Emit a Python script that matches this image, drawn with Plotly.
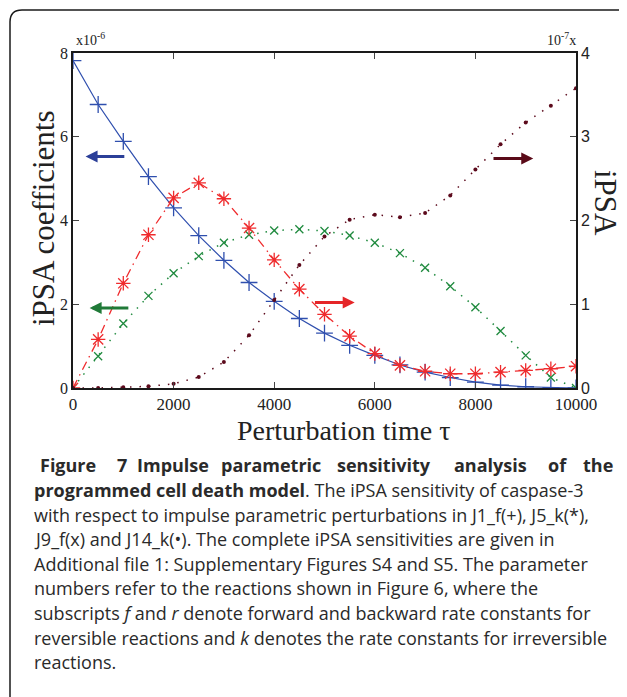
import plotly.graph_objects as go

# perturbation times
tau = [0, 500, 1000, 1500, 2000, 2500, 3000, 3500, 4000, 4500, 5000,
       5500, 6000, 6500, 7000, 7500, 8000, 8500, 9000, 9500, 10000]

# left axis (x1e-6)
j1_f = [7.82, 6.77, 5.89, 5.05, 4.30, 3.64, 3.05, 2.52, 2.07, 1.66, 1.31,
        1.02, 0.78, 0.55, 0.38, 0.25, 0.14, 0.07, 0.03, 0.01, 0.0]
j9_f = [0.0, 0.76, 1.54, 2.20, 2.74, 3.15, 3.47, 3.66, 3.76, 3.79, 3.75,
        3.64, 3.47, 3.22, 2.87, 2.43, 1.93, 1.36, 0.78, 0.25, 0.0]

# right axis (x1e-7)
j5_k = [0.0, 0.58, 1.25, 1.83, 2.27, 2.45, 2.26, 1.91, 1.53, 1.18, 0.88,
        0.62, 0.41, 0.27, 0.20, 0.17, 0.17, 0.19, 0.21, 0.23, 0.26]
j14_k = [0.0, 0.0, 0.01, 0.02, 0.05, 0.13, 0.31, 0.63, 1.05, 1.47, 1.81,
         2.01, 2.07, 2.04, 2.09, 2.30, 2.61, 2.91, 3.17, 3.37, 3.58]

xticks = [0, 2000, 4000, 6000, 8000, 10000]
xlabels = ["0", "2000", "4000", "6000", "8000", "10000"]

caption_first = ["Figure", "7", "Impulse", "parametric", "sensitivity",
                 "analysis", "of", "the"]
caption_rest = [
    "<b>programmed cell death model</b>. The iPSA sensitivity of caspase-3",
    "with respect to impulse parametric perturbations in J1_f(+), J5_k(*),",
    "J9_f(x) and J14_k(•). The complete iPSA sensitivities are given in",
    "Additional file 1: Supplementary Figures S4 and S5. The parameter",
    "numbers refer to the reactions shown in Figure 6, where the",
    "subscripts <i>f</i> and <i>r</i> denote forward and backward rate constants for",
    "reversible reactions and <i>k</i> denotes the rate constants for irreversible",
    "reactions.",
]

BLUE = "#2f4fae"
RED = "#ef2b2d"
GREEN = "#1f8a3e"
MAROON = "#5c0a1c"

# page puts the plot 8px in from the corner, so work in page pixels minus 8
OFF = 8
W, H = 627 - OFF, 697 - OFF
L, T = 73 - OFF, 53 - OFF
R, B = W - (576 - OFF), H - (388 - OFF)
PW, PH = W - L - R, H - T - B


def px(x):
    return (x - OFF - L) / PW


def py(y):
    return (H - B - (y - OFF)) / PH


fig = go.Figure()

fig.add_trace(go.Scatter(x=tau, y=j1_f, mode="lines+markers",
                         line=dict(color=BLUE, width=1.2),
                         marker=dict(symbol="cross-thin", size=12,
                                     line=dict(color=BLUE, width=1.3))))
fig.add_trace(go.Scatter(x=tau, y=j9_f, mode="lines+markers",
                         line=dict(color=GREEN, width=1.5, dash="1.5px,7px"),
                         marker=dict(symbol="x-thin", size=8,
                                     line=dict(color=GREEN, width=1.3))))
fig.add_trace(go.Scatter(x=tau, y=j5_k, yaxis="y2", mode="lines+markers",
                         line=dict(color=RED, width=1.3, dash="9px,5px,1.5px,5px"),
                         marker=dict(symbol="asterisk", size=12,
                                     line=dict(color=RED, width=1.3))))
fig.add_trace(go.Scatter(x=tau, y=j14_k, yaxis="y2", mode="lines+markers",
                         line=dict(color=MAROON, width=1.5, dash="1.5px,8px"),
                         marker=dict(symbol="circle", size=4, color=MAROON)))

# direction arrows
arrow = dict(showarrow=True, arrowhead=2, arrowsize=0.8, arrowwidth=3, text="",
             axref="x", xref="x")
fig.add_annotation(x=250, y=5.53, ax=1050, ay=5.53, ayref="y", yref="y",
                   arrowcolor="#2b3f98", **arrow)
fig.add_annotation(x=330, y=1.91, ax=1130, ay=1.91, ayref="y", yref="y",
                   arrowcolor="#207a38", **arrow)
fig.add_annotation(x=5600, y=1.02, ax=4780, ay=1.02, ayref="y2", yref="y2",
                   arrowcolor="#e52528", **arrow)
fig.add_annotation(x=9150, y=2.74, ax=8330, ay=2.74, ayref="y2", yref="y2",
                   arrowcolor="#5a0a18", **arrow)

serif = "Liberation Serif"
txt = "#222222"
mid = dict(xref="paper", yref="paper", showarrow=False, yanchor="middle")

# axis titles and exponents
fig.add_annotation(x=px(43), y=py(218), xanchor="center",
                   text="iPSA coefficients", textangle=-90,
                   font=dict(family=serif, size=31, color=txt), **mid)
fig.add_annotation(x=px(606), y=py(203), xanchor="center",
                   text="iPSA", textangle=90,
                   font=dict(family=serif, size=31, color=txt), **mid)
fig.add_annotation(x=px(343), y=py(431), xanchor="center",
                   text="Perturbation time τ",
                   font=dict(family=serif, size=28, color=txt), **mid)
fig.add_annotation(x=px(74), y=py(39), xanchor="left",
                   text="x10<sup>-6</sup>",
                   font=dict(family=serif, size=14, color=txt), **mid)
fig.add_annotation(x=px(578), y=py(39), xanchor="right",
                   text="10<sup>-7</sup>x",
                   font=dict(family=serif, size=14, color=txt), **mid)

# caption, first line spread out to both margins
cap_font = "Open Sans"
cap_size = 18
word_cx = [68, 122, 173, 271, 384, 490, 557, 598]
for w, xx in zip(caption_first, word_cx):
    fig.add_annotation(x=px(xx), y=py(465), xanchor="center",
                       text="<b>" + w + "</b>",
                       font=dict(family=cap_font, size=cap_size, color="#2a2a2a"),
                       **mid)
for i, line in enumerate(caption_rest):
    fig.add_annotation(x=px(32), y=py(490 + 24.6 * i), xanchor="left",
                       text=line,
                       font=dict(family=cap_font, size=cap_size, color="#2a2a2a"),
                       **mid)

# frame around figure
r = 12
x0, y0, x1, y1 = px(10), py(10), px(660), py(720)
rx, ry = r / PW, r / PH
fig.add_shape(type="path", xref="paper", yref="paper",
              path=f"M {x0},{y1} L {x0},{y0 - ry} Q {x0},{y0} {x0 + rx},{y0} L {x1},{y0}",
              line=dict(color="#1a1a1a", width=1.5))

fig.update_layout(
    width=W, height=H,
    margin=dict(l=L, r=R, t=T, b=B, autoexpand=False),
    paper_bgcolor="white", plot_bgcolor="white",
    showlegend=False,
    xaxis=dict(range=[0, 10000], tickvals=xticks, ticktext=xlabels,
               ticks="inside", ticklen=6,
               showline=True, linecolor="#1a1a1a", linewidth=1.5,
               mirror="ticks", showgrid=False, zeroline=False,
               tickfont=dict(family=serif, size=17, color=txt)),
    yaxis=dict(range=[0, 8], dtick=2, ticks="inside", ticklen=6,
               showline=True, linecolor="#1a1a1a", linewidth=1.5,
               showgrid=False, zeroline=False,
               tickfont=dict(family=serif, size=16, color=txt)),
    yaxis2=dict(range=[0, 4], dtick=1, ticks="inside", ticklen=6,
                overlaying="y", side="right", showline=True,
                linecolor="#1a1a1a", linewidth=1.5, showgrid=False,
                zeroline=False,
                tickfont=dict(family="Liberation Sans", size=16, color=txt)),
)

fig.write_html("out.html")
